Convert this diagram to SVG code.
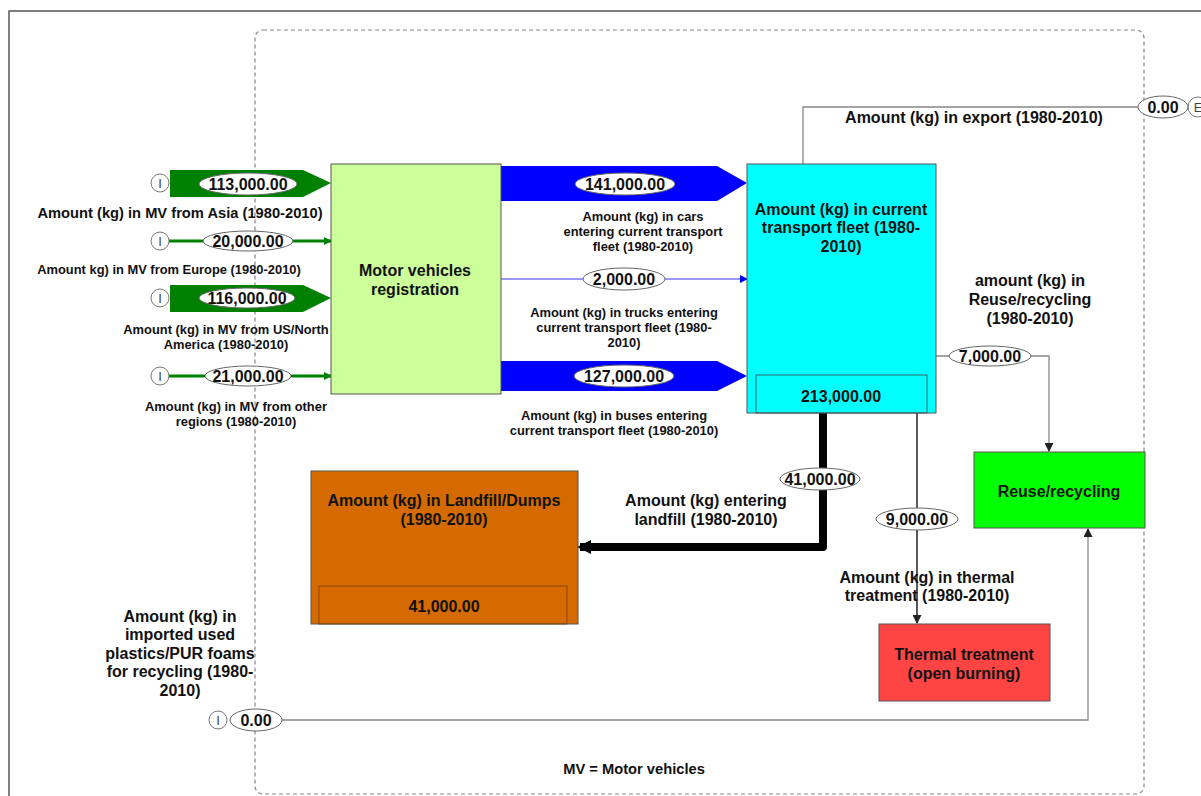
<svg xmlns="http://www.w3.org/2000/svg" width="1201" height="796" viewBox="0 0 1201 796">
<defs>
<style>
text{font-family:"Liberation Sans",Arial,sans-serif;font-weight:bold;fill:#111;text-anchor:middle}
.big{font-size:16px}
.sm{font-size:12.9px}
.xl{font-size:14.7px}
.val{font-size:16px}
.io{font-size:13px;font-weight:normal;fill:#444}
.box{stroke:#555;stroke-width:1}
.lbl{fill:#fff;stroke:#666;stroke-width:1}
.src{fill:#fff;stroke:#777;stroke-width:1}
.thin{fill:none;stroke:#888;stroke-width:1.3}
</style>
<marker id="ag" markerWidth="8" markerHeight="8" refX="7" refY="4" orient="auto" markerUnits="userSpaceOnUse"><path d="M0,0 L8,4 L0,8 z" fill="#008000"/></marker>
<marker id="ab" markerWidth="8" markerHeight="8" refX="7" refY="4" orient="auto" markerUnits="userSpaceOnUse"><path d="M0,0 L8,4 L0,8 z" fill="#0000ff"/></marker>
<marker id="ak" markerWidth="9" markerHeight="9" refX="8" refY="4.5" orient="auto" markerUnits="userSpaceOnUse"><path d="M0,0 L9,4.5 L0,9 z" fill="#222"/></marker>
</defs>
<rect width="1201" height="796" fill="#fff"/>
<path d="M9,796 V11 H1201" fill="none" stroke="#555" stroke-width="1.5"/>
<rect x="255" y="30" width="889" height="764" rx="8" fill="none" stroke="#888" stroke-width="1.2" stroke-dasharray="4,3"/>

<g id="connectors">
<path d="M170,170 H303 L331,183 L303,197 H170 z" fill="#008000"/>
<line x1="169" y1="241" x2="331" y2="241" stroke="#008000" stroke-width="3" marker-end="url(#ag)"/>
<path d="M170,285 H303 L331,298 L303,312 H170 z" fill="#008000"/>
<line x1="169" y1="376" x2="331" y2="376" stroke="#008000" stroke-width="3" marker-end="url(#ag)"/>
<path d="M501,166 H717 L747,183 L717,201 H501 z" fill="#0000ff"/>
<line x1="501" y1="279" x2="747" y2="279" stroke="#3333ff" stroke-width="1" marker-end="url(#ab)"/>
<path d="M501,361 H717 L747,376 L717,391 H501 z" fill="#0000ff"/>
<path d="M803,164 V107 H1138" class="thin"/>
<path d="M936,356 H950 M1030,356 H1049 V451" class="thin" marker-end="url(#ak)"/>
<path d="M823,413 V547 H580" fill="none" stroke="#000" stroke-width="8" stroke-linejoin="round"/>
<path d="M591,540 L577,547 L591,554 z" fill="#000"/>
<line x1="917" y1="413" x2="917" y2="623" stroke="#222" stroke-width="1.5" marker-end="url(#ak)"/>
<path d="M281,720 H1088 V529" class="thin" marker-end="url(#ak)"/>
<circle cx="160" cy="183" r="9" class="src"/><text x="160" y="188" class="io">I</text>
<circle cx="160" cy="241" r="9" class="src"/><text x="160" y="246" class="io">I</text>
<circle cx="160" cy="298" r="9" class="src"/><text x="160" y="303" class="io">I</text>
<circle cx="160" cy="376" r="9" class="src"/><text x="160" y="381" class="io">I</text>
<circle cx="218" cy="720" r="9" class="src"/><text x="218" y="725" class="io">I</text>
<circle cx="1198" cy="107" r="10" class="src"/><text x="1198" y="112" class="io">E</text>
<ellipse cx="248" cy="184" rx="49" ry="11" class="lbl"/><text x="248" y="190" class="val">113,000.00</text>
<ellipse cx="248" cy="241" rx="45" ry="10" class="lbl"/><text x="248" y="247" class="val">20,000.00</text>
<ellipse cx="247" cy="298" rx="48" ry="10" class="lbl"/><text x="247" y="304" class="val">116,000.00</text>
<ellipse cx="248" cy="376" rx="43" ry="10" class="lbl"/><text x="248" y="382" class="val">21,000.00</text>
<ellipse cx="625" cy="184" rx="50" ry="11" class="lbl"/><text x="625" y="190" class="val">141,000.00</text>
<ellipse cx="624" cy="279" rx="41" ry="11" class="lbl"/><text x="624" y="285" class="val">2,000.00</text>
<ellipse cx="624" cy="376" rx="50" ry="11" class="lbl"/><text x="624" y="382" class="val">127,000.00</text>
<ellipse cx="1163" cy="107" rx="25" ry="11" class="lbl"/><text x="1163" y="113" class="val">0.00</text>
<ellipse cx="990" cy="356" rx="41" ry="10" class="lbl"/><text x="990" y="362" class="val">7,000.00</text>
<ellipse cx="820" cy="479" rx="40" ry="11" class="lbl"/><text x="820" y="485" class="val">41,000.00</text>
<ellipse cx="917" cy="519" rx="41" ry="11" class="lbl"/><text x="917" y="525" class="val">9,000.00</text>
<ellipse cx="256" cy="720" rx="26" ry="11" class="lbl"/><text x="256" y="726" class="val">0.00</text>
<text class="xl"><tspan x="180" y="218">Amount (kg) in MV from Asia (1980-2010)</tspan></text>
<text class="sm"><tspan x="169" y="274">Amount kg) in MV from Europe (1980-2010)</tspan></text>
<text class="sm"><tspan x="226" y="334">Amount (kg) in MV from US/North</tspan><tspan x="226" y="349">America (1980-2010)</tspan></text>
<text class="sm"><tspan x="236" y="411">Amount (kg) in MV from other</tspan><tspan x="236" y="426">regions (1980-2010)</tspan></text>
<text class="sm"><tspan x="643" y="221">Amount (kg) in cars</tspan><tspan x="643" y="236">entering current transport</tspan><tspan x="643" y="251">fleet (1980-2010)</tspan></text>
<text class="sm"><tspan x="624" y="317">Amount (kg) in trucks entering</tspan><tspan x="624" y="332">current transport fleet (1980-</tspan><tspan x="624" y="347">2010)</tspan></text>
<text class="sm"><tspan x="614" y="420">Amount (kg) in buses entering</tspan><tspan x="614" y="435">current transport fleet (1980-2010)</tspan></text>
<text class="big"><tspan x="974" y="123">Amount (kg) in export (1980-2010)</tspan></text>
<text class="big"><tspan x="1030" y="286">amount (kg) in</tspan><tspan x="1030" y="305">Reuse/recycling</tspan><tspan x="1030" y="324">(1980-2010)</tspan></text>
<text class="big"><tspan x="706" y="506">Amount (kg) entering</tspan><tspan x="706" y="525">landfill (1980-2010)</tspan></text>
<text class="big"><tspan x="927" y="583">Amount (kg) in thermal</tspan><tspan x="927" y="601">treatment (1980-2010)</tspan></text>
<text class="big"><tspan x="180" y="622">Amount (kg) in</tspan><tspan x="180" y="640">imported used</tspan><tspan x="180" y="659">plastics/PUR foams</tspan><tspan x="180" y="677">for recycling (1980-</tspan><tspan x="180" y="696">2010)</tspan></text>
</g>

<g id="mv-registration">
<rect x="331" y="164" width="170" height="230" fill="#ccff99" class="box"/>
<text class="big"><tspan x="415" y="276">Motor vehicles</tspan><tspan x="415" y="295">registration</tspan></text>
</g>
<g id="transport-fleet">
<rect x="747" y="164" width="189" height="249" fill="#00ffff" class="box"/>
<rect x="756" y="375" width="171" height="38" fill="none" stroke="#444" stroke-width="0.8"/>
<text class="big"><tspan x="841" y="215">Amount (kg) in current</tspan><tspan x="841" y="233">transport fleet (1980-</tspan><tspan x="841" y="252">2010)</tspan></text>
<text x="841" y="402" class="big">213,000.00</text>
</g>
<g id="landfill">
<rect x="311" y="471" width="267" height="153" fill="#d46a00" class="box"/>
<rect x="319" y="586" width="248" height="38" fill="none" stroke="#7a3d00" stroke-width="0.8"/>
<text class="big"><tspan x="444" y="506">Amount (kg) in Landfill/Dumps</tspan><tspan x="444" y="525">(1980-2010)</tspan></text>
<text x="444" y="612" class="big">41,000.00</text>
</g>
<g id="reuse-recycling">
<rect x="974" y="452" width="171" height="76" fill="#00ff00" class="box"/>
<text x="1059" y="497" class="big">Reuse/recycling</text>
</g>
<g id="thermal-treatment">
<rect x="879" y="624" width="171" height="77" fill="#ff4444" class="box"/>
<text class="big"><tspan x="964" y="660">Thermal treatment</tspan><tspan x="964" y="679">(open burning)</tspan></text>
</g>
<text x="634" y="774" class="xl">MV = Motor vehicles</text>
</svg>
